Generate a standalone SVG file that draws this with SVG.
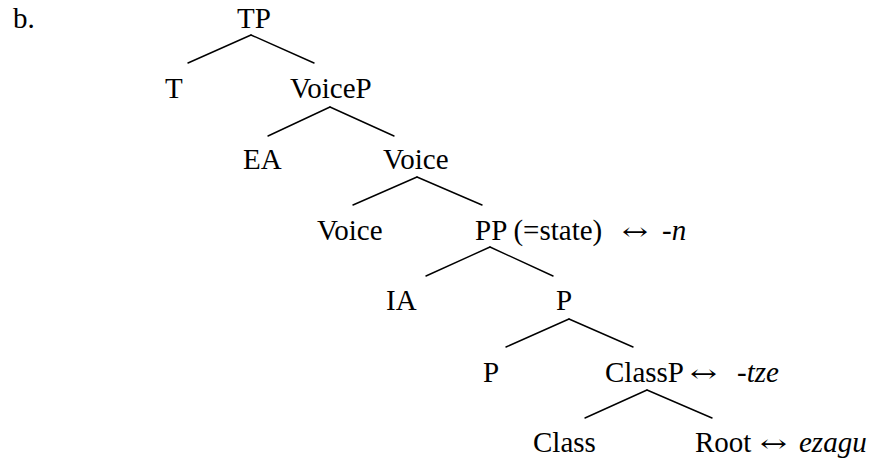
<svg xmlns="http://www.w3.org/2000/svg" width="872" height="462" viewBox="0 0 872 462">
<style>
.i{font-style:italic}
.a{font-family:"DejaVu Serif",serif;font-size:24px}
.e line{stroke:#000;stroke-width:1.4;stroke-linecap:round}
</style>
<rect width="872" height="462" fill="#fff"/>
<g font-family="Liberation Serif, Times New Roman, serif" font-size="29" fill="#000">
<text x="13" y="28">b.</text>
<g id="connectors" class="e">
<line x1="251" y1="35" x2="188" y2="63"/><line x1="251" y1="35" x2="314" y2="63"/>
<line x1="330" y1="107" x2="268" y2="136"/><line x1="330" y1="107" x2="394" y2="136"/>
<line x1="417" y1="177" x2="353" y2="205"/><line x1="417" y1="177" x2="482" y2="205"/>
<line x1="490" y1="247" x2="426" y2="276"/><line x1="490" y1="247" x2="553" y2="276"/>
<line x1="569" y1="319" x2="506" y2="347"/><line x1="569" y1="319" x2="633" y2="347"/>
<line x1="647" y1="390" x2="585" y2="418"/><line x1="647" y1="390" x2="712" y2="418"/>
</g>
<g id="tp"><text x="237" y="28">TP</text></g>
<g id="t"><text x="165" y="98">T</text></g>
<g id="voicep"><text x="290" y="98">VoiceP</text></g>
<g id="ea"><text x="243" y="169">EA</text></g>
<g id="voicebar"><text x="383" y="169">Voice</text></g>
<g id="voice"><text x="317" y="240">Voice</text></g>
<g id="pp"><text x="475" y="240">PP (=state)</text><text class="a" x="622" y="240" textLength="26" lengthAdjust="spacingAndGlyphs">↔</text><text class="i" x="662" y="240">-n</text></g>
<g id="ia"><text x="386" y="310">IA</text></g>
<g id="pbar"><text x="556" y="310">P</text></g>
<g id="p"><text x="483" y="382">P</text></g>
<g id="classp"><text x="605" y="382">ClassP</text><text class="a" x="690" y="382" textLength="27" lengthAdjust="spacingAndGlyphs">↔</text><text class="i" x="737" y="382">-tze</text></g>
<g id="class"><text x="533" y="452">Class</text></g>
<g id="root"><text x="695" y="452">Root</text><text class="a" x="760" y="452" textLength="27" lengthAdjust="spacingAndGlyphs">↔</text><text class="i" x="799" y="452">ezagu</text></g>
</g>
</svg>
